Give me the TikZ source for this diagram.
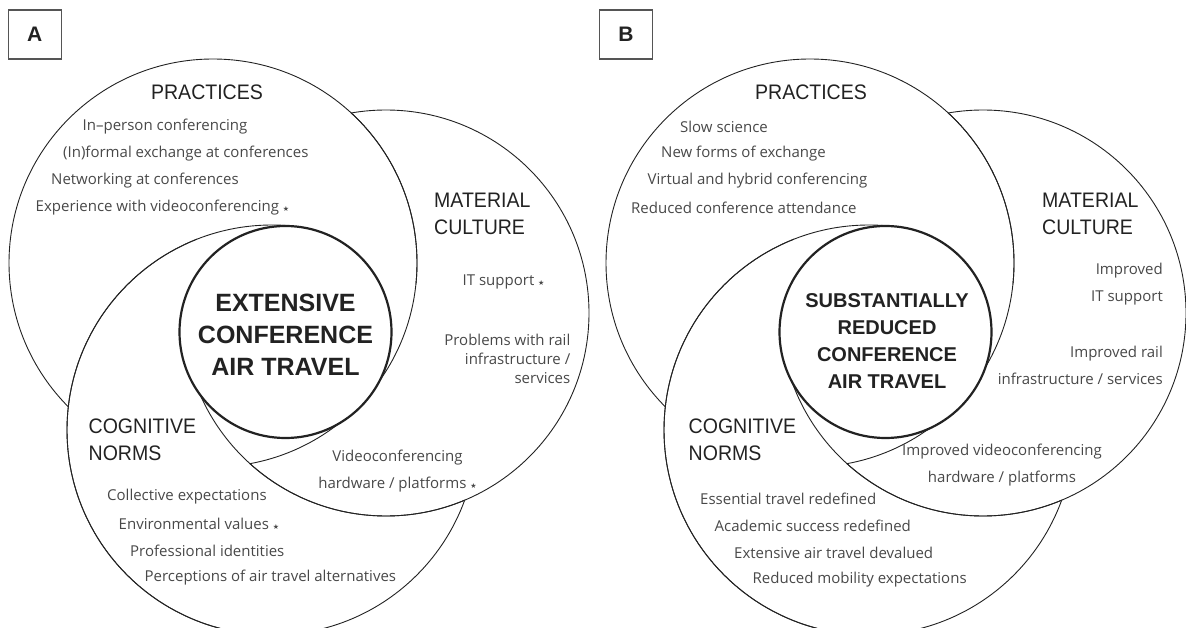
\documentclass[tikz,border=0pt]{standalone}
\usepackage{fontspec}
\setmainfont{Liberation Sans}
\newfontfamily\bodyfont{Open Sans}
\newfontfamily\starfont{DejaVu Sans}
\definecolor{inkgray}{RGB}{34,34,34}
\definecolor{textgray}{RGB}{72,72,72}
\definecolor{boxgray}{RGB}{85,85,85}
\newcommand{\narrow}[1]{\scalebox{0.93}[1]{#1}}
\newcommand{\mstar}{\ {\starfont\fontsize{7}{7}\selectfont ★}}
\tikzset{
  circ/.style={draw=inkgray, line width=0.9pt},
  core/.style={draw=inkgray, fill=white, line width=2.2pt},
  item/.style={inner sep=0pt, text=textgray, font=\bodyfont\fontsize{15}{18}\selectfont},
  heading/.style={inner sep=0pt, text=inkgray, align=left, font=\fontsize{21}{27}\selectfont},
  titleA/.style={inner sep=0pt, text=inkgray, align=center, font=\fontsize{25}{32}\selectfont\bfseries},
  titleB/.style={inner sep=0pt, text=inkgray, align=center, font=\fontsize{20}{26.7}\selectfont\bfseries},
  panelbox/.style={draw=boxgray, line width=1.1pt, minimum width=53pt, minimum height=49pt,
    inner sep=0pt, text=inkgray, font=\fontsize{21}{21}\selectfont\bfseries},
}
\begin{document}
\begin{tikzpicture}[x=1pt, y=-1pt]
\useasboundingbox (0,0) rectangle (1186,628);
{

% ---------------- Panel A ----------------
\node [panelbox] (boxA) at (34.8,34.5) {A};%

% Drawing circle practices A (gone inside cognitive norms A, kept inside material culture A)
\begin{scope}[even odd rule]
\clip (-20,-20) rectangle (1206,648) (272,430) circle [radius=205pt];
\draw [circ] (213,263) circle [radius=204pt];%
\end{scope}
\begin{scope}
\clip (386,313) circle [radius=203pt];
\draw [circ] (213,263) circle [radius=204pt];%
\end{scope}

% Drawing circle material culture A (gone inside practices A, kept low in cognitive norms A)
\begin{scope}[even odd rule]
\clip (-20,-20) rectangle (1206,648) (213,263) circle [radius=204pt];
\draw [circ] (386,313) circle [radius=203pt];%
\end{scope}
\begin{scope}
\clip (272,430) circle [radius=205pt];
\clip (-20,360) rectangle (1206,648);
\draw [circ] (386,313) circle [radius=203pt];%
\end{scope}

% Drawing circle cognitive norms A (gone inside material culture A, right of the core)
\begin{scope}[even odd rule]
\clip (-20,-20) rectangle (1206,648) (386,313) circle [radius=203pt];
\draw [circ] (272,430) circle [radius=205pt];%
\end{scope}
\begin{scope}
\clip (-20,-20) rectangle (285.5,648);
\draw [circ] (272,430) circle [radius=205pt];%
\end{scope}

% Drawing core circle A
\draw [core] (285.5,332) circle [radius=106pt];%
\node [titleA] (coreA) at (285.5,334.5) {EXTENSIVE\\CONFERENCE\\AIR TRAVEL};%

% Marking practices A
\node [heading] (pracA) at (207,92) {\narrow{PRACTICES}};%
\node [item, anchor=west] (pracA1) at (82.5,127) {In–person conferencing};%
\node [item, anchor=west] (pracA2) at (63,154) {(In)formal exchange at conferences};%
\node [item, anchor=west] (pracA3) at (51,181) {Networking at conferences};%
\node [item, anchor=west] (pracA4) at (35.5,208) {Experience with videoconferencing\mstar};%

% Marking material culture A
\node [heading, anchor=west] (matA) at (434,214) {\narrow{MATERIAL}\\\narrow{CULTURE}};%
\node [item, anchor=west] (matA1) at (462.5,282) {IT support\mstar};%
\node [item, anchor=east, align=right, font=\bodyfont\fontsize{15}{19}\selectfont] (matA2) at (570.5,359) {Problems with rail\\infrastructure /\\services};%
\node [item, align=center, font=\bodyfont\fontsize{15}{27}\selectfont] (matA3) at (397.5,471.5) {Videoconferencing\\hardware / platforms\mstar};%

% Marking cognitive norms A
\node [heading, anchor=west] (cogA) at (88.5,440) {\narrow{COGNITIVE}\\\narrow{NORMS}};%
\node [item, anchor=west] (cogA1) at (107,497) {Collective expectations};%
\node [item, anchor=west] (cogA2) at (118.5,524) {Environmental values\mstar};%
\node [item, anchor=west] (cogA3) at (130,551) {Professional identities};%
\node [item, anchor=west] (cogA4) at (144.5,578) {Perceptions of air travel alternatives};%

% ---------------- Panel B ----------------
\node [panelbox] (boxB) at (626,34.5) {B};%

% Drawing circle practices B (gone inside cognitive norms B, kept inside material culture B)
\begin{scope}[even odd rule]
\clip (-20,-20) rectangle (1206,648) (869,430) circle [radius=205pt];
\draw [circ] (810,263) circle [radius=204pt];%
\end{scope}
\begin{scope}
\clip (983,313) circle [radius=203pt];
\draw [circ] (810,263) circle [radius=204pt];%
\end{scope}

% Drawing circle material culture B (gone inside practices B, kept low in cognitive norms B)
\begin{scope}[even odd rule]
\clip (-20,-20) rectangle (1206,648) (810,263) circle [radius=204pt];
\draw [circ] (983,313) circle [radius=203pt];%
\end{scope}
\begin{scope}
\clip (869,430) circle [radius=205pt];
\clip (-20,360) rectangle (1206,648);
\draw [circ] (983,313) circle [radius=203pt];%
\end{scope}

% Drawing circle cognitive norms B (gone inside material culture B, right of the core)
\begin{scope}[even odd rule]
\clip (-20,-20) rectangle (1206,648) (983,313) circle [radius=203pt];
\draw [circ] (869,430) circle [radius=205pt];%
\end{scope}
\begin{scope}
\clip (-20,-20) rectangle (885.5,648);
\draw [circ] (869,430) circle [radius=205pt];%
\end{scope}

% Drawing core circle B
\draw [core] (885.5,332) circle [radius=106pt];%
\node [titleB] (coreB) at (887,341) {SUBSTANTIALLY\\REDUCED\\CONFERENCE\\AIR TRAVEL};%

% Marking practices B
\node [heading] (pracB) at (811,92) {\narrow{PRACTICES}};%
\node [item, anchor=west] (pracB1) at (680,127) {Slow science};%
\node [item, anchor=west] (pracB2) at (661,154) {New forms of exchange};%
\node [item, anchor=west] (pracB3) at (647.5,181) {Virtual and hybrid conferencing};%
\node [item, anchor=west] (pracB4) at (631,208) {Reduced conference attendance};%

% Marking material culture B
\node [heading, anchor=west] (matB) at (1042,214) {\narrow{MATERIAL}\\\narrow{CULTURE}};%
\node [item, anchor=east, align=right, font=\bodyfont\fontsize{15}{27}\selectfont] (matB1) at (1163,284.5) {Improved\\IT support};%
\node [item, anchor=east, align=right, font=\bodyfont\fontsize{15}{27}\selectfont] (matB2) at (1163,365.5) {Improved rail\\infrastructure / services};%
\node [item, align=center, font=\bodyfont\fontsize{15}{27}\selectfont] (matB3) at (1002,465.5) {Improved videoconferencing\\hardware / platforms};%

% Marking cognitive norms B
\node [heading, anchor=west] (cogB) at (688.5,440) {\narrow{COGNITIVE}\\\narrow{NORMS}};%
\node [item, anchor=west] (cogB1) at (700,499) {Essential travel redefined};%
\node [item, anchor=west] (cogB2) at (714.5,526) {Academic success redefined};%
\node [item, anchor=west] (cogB3) at (734,553) {Extensive air travel devalued};%
\node [item, anchor=west] (cogB4) at (752.5,580) {Reduced mobility expectations};%
}
\end{tikzpicture}
\end{document}
